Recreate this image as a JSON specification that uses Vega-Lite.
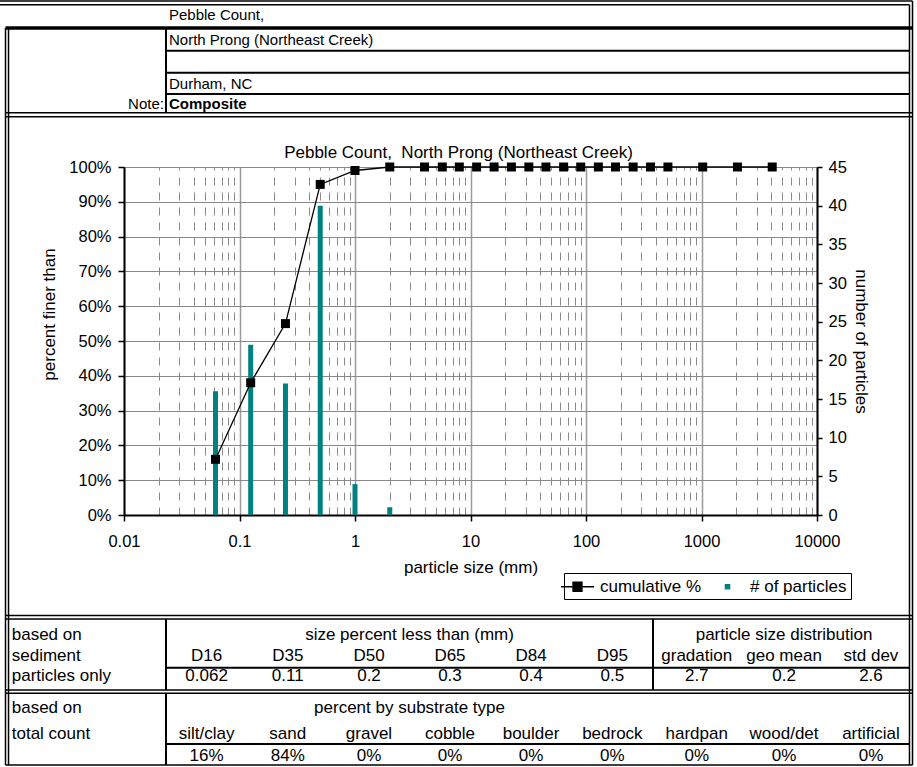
{
  "$schema": "https://vega.github.io/schema/vega-lite/v6.json",
  "width": 693,
  "height": 348,
  "autosize": {"type": "none"},
  "padding": {"left": 124, "top": 167, "right": 100, "bottom": 252},
  "background": "white",
  "config": {
    "font": "Liberation Sans",
    "view": {"stroke": "black", "strokeWidth": 1},
    "axis": {"labelColor": "black", "titleColor": "black", "labelFontSize": 16.5, "titleFontSize": 17, "titleFontWeight": "normal", "domainColor": "black", "tickColor": "black", "domainWidth": 2, "tickWidth": 1.5, "tickSize": 6, "gridColor": "#8a8a8a", "gridWidth": 1}
  },
  "datasets": {
    "cum": [
      {"size": 0.062, "pct": 0.16}, {"size": 0.125, "pct": 0.38}, {"size": 0.25, "pct": 0.55}, {"size": 0.5, "pct": 0.95},
      {"size": 1, "pct": 0.99}, {"size": 2, "pct": 1}, {"size": 4, "pct": 1}, {"size": 5.7, "pct": 1}, {"size": 8, "pct": 1},
      {"size": 11.3, "pct": 1}, {"size": 16, "pct": 1}, {"size": 22.6, "pct": 1}, {"size": 32, "pct": 1}, {"size": 45, "pct": 1},
      {"size": 64, "pct": 1}, {"size": 90, "pct": 1}, {"size": 128, "pct": 1}, {"size": 180, "pct": 1}, {"size": 256, "pct": 1},
      {"size": 362, "pct": 1}, {"size": 512, "pct": 1}, {"size": 1024, "pct": 1}, {"size": 2048, "pct": 1}, {"size": 4096, "pct": 1}
    ],
    "bars": [
      {"size": 0.062, "count": 16}, {"size": 0.125, "count": 22}, {"size": 0.25, "count": 17},
      {"size": 0.5, "count": 40}, {"size": 1, "count": 4}, {"size": 2, "count": 1}
    ],
    "thin": [
      {"x1": 0, "x2": 99.51, "y1": 0.13, "y2": 0.13},
      {"x1": 0, "x2": 99.18, "y1": 0.61, "y2": 0.61},
      {"x1": 99.51, "x2": 99.51, "y1": 0.13, "y2": 99.74},
      {"x1": 99.18, "x2": 99.18, "y1": 0.61, "y2": 99.74},
      {"x1": 0.6, "x2": 0.6, "y1": 3.65, "y2": 99.74},
      {"x1": 0.93, "x2": 0.93, "y1": 3.65, "y2": 99.74},
      {"x1": 0.6, "x2": 99.51, "y1": 14.69, "y2": 14.69},
      {"x1": 0.6, "x2": 99.51, "y1": 15.22, "y2": 15.22},
      {"x1": 0.6, "x2": 99.51, "y1": 80.25, "y2": 80.25},
      {"x1": 0.6, "x2": 99.51, "y1": 80.7, "y2": 80.7},
      {"x1": 0.6, "x2": 99.51, "y1": 89.96, "y2": 89.96},
      {"x1": 0.6, "x2": 99.51, "y1": 90.39, "y2": 90.39},
      {"x1": 0.6, "x2": 99.51, "y1": 99.74, "y2": 99.74}
    ],
    "medium": [
      {"x1": 18.1, "x2": 99.18, "y1": 6.61, "y2": 6.61},
      {"x1": 18.1, "x2": 99.18, "y1": 9.48, "y2": 9.48},
      {"x1": 18.1, "x2": 99.18, "y1": 12.26, "y2": 12.26},
      {"x1": 18.1, "x2": 18.1, "y1": 3.65, "y2": 14.69},
      {"x1": 18.1, "x2": 18.1, "y1": 80.7, "y2": 89.96},
      {"x1": 18.1, "x2": 18.1, "y1": 90.39, "y2": 99.74},
      {"x1": 18.1, "x2": 99.18, "y1": 87.05, "y2": 87.05},
      {"x1": 71.21, "x2": 71.21, "y1": 80.7, "y2": 89.96},
      {"x1": 18.1, "x2": 99.18, "y1": 97.0, "y2": 97.0}
    ],
    "thick": [
      {"x1": 0.6, "x2": 99.51, "y1": 3.65, "y2": 3.65}
    ],
    "hleft": [
      {"x": 18.43, "y": 1.96, "text": "Pebble Count,"},
      {"x": 18.43, "y": 5.15, "text": "North Prong (Northeast Creek)"},
      {"x": 18.43, "y": 10.89, "text": "Durham, NC"}
    ],
    "hright": [{"x": 17.88, "y": 13.56, "text": "Note:"}],
    "hbold": [{"x": 18.43, "y": 13.56, "text": "Composite"}],
    "tleft": [
      {"x": 1.28, "y": 82.85, "text": "based on"},
      {"x": 1.28, "y": 85.5, "text": "sediment"},
      {"x": 1.28, "y": 88.2, "text": "particles only"},
      {"x": 1.28, "y": 92.35, "text": "based on"},
      {"x": 1.28, "y": 95.65, "text": "total count"}
    ],
    "tcenter": [
      {"x": 44.66, "y": 82.85, "text": "size percent less than (mm)"},
      {"x": 85.5, "y": 82.85, "text": "particle size distribution"},
      {"x": 22.53, "y": 85.5, "text": "D16"},
      {"x": 31.38, "y": 85.5, "text": "D35"},
      {"x": 40.24, "y": 85.5, "text": "D50"},
      {"x": 49.07, "y": 85.5, "text": "D65"},
      {"x": 57.91, "y": 85.5, "text": "D84"},
      {"x": 66.78, "y": 85.5, "text": "D95"},
      {"x": 75.98, "y": 85.5, "text": "gradation"},
      {"x": 85.5, "y": 85.5, "text": "geo mean"},
      {"x": 94.98, "y": 85.5, "text": "std dev"},
      {"x": 22.53, "y": 88.2, "text": "0.062"},
      {"x": 31.38, "y": 88.2, "text": "0.11"},
      {"x": 40.24, "y": 88.2, "text": "0.2"},
      {"x": 49.07, "y": 88.2, "text": "0.3"},
      {"x": 57.91, "y": 88.2, "text": "0.4"},
      {"x": 66.78, "y": 88.2, "text": "0.5"},
      {"x": 75.98, "y": 88.2, "text": "2.7"},
      {"x": 85.5, "y": 88.2, "text": "0.2"},
      {"x": 94.98, "y": 88.2, "text": "2.6"},
      {"x": 44.66, "y": 92.35, "text": "percent by substrate type"},
      {"x": 22.53, "y": 95.65, "text": "silt/clay"},
      {"x": 31.38, "y": 95.65, "text": "sand"},
      {"x": 40.24, "y": 95.65, "text": "gravel"},
      {"x": 49.07, "y": 95.65, "text": "cobble"},
      {"x": 57.91, "y": 95.65, "text": "boulder"},
      {"x": 66.78, "y": 95.65, "text": "bedrock"},
      {"x": 75.98, "y": 95.65, "text": "hardpan"},
      {"x": 85.5, "y": 95.65, "text": "wood/det"},
      {"x": 94.98, "y": 95.65, "text": "artificial"},
      {"x": 22.53, "y": 98.55, "text": "16%"},
      {"x": 31.38, "y": 98.55, "text": "84%"},
      {"x": 40.24, "y": 98.55, "text": "0%"},
      {"x": 49.07, "y": 98.55, "text": "0%"},
      {"x": 57.91, "y": 98.55, "text": "0%"},
      {"x": 66.78, "y": 98.55, "text": "0%"},
      {"x": 75.98, "y": 98.55, "text": "0%"},
      {"x": 85.5, "y": 98.55, "text": "0%"},
      {"x": 94.98, "y": 98.55, "text": "0%"}
    ]
  },
  "layer": [
    {
      "layer": [
        {
          "data": {"name": "bars"},
          "mark": {"type": "rule", "strokeWidth": 5, "strokeCap": "butt"},
          "encoding": {
            "x": {"field": "size", "type": "quantitative", "scale": {"type": "log", "domain": [0.01, 10000], "nice": false},
                  "axis": {"values": [0.01, 0.1, 1, 10, 100, 1000, 10000], "labelExpr": "'' + datum.value", "grid": true, "gridColor": "#9a9a9a", "gridWidth": 1.5, "title": "particle size (mm)", "labelPadding": 12, "titlePadding": 10, "labelFlush": false, "labelOverlap": false}},
            "y": {"field": "count", "type": "quantitative", "scale": {"domain": [0, 45], "nice": false},
                  "axis": {"orient": "right", "values": [0, 5, 10, 15, 20, 25, 30, 35, 40, 45], "grid": false, "title": "number of particles", "tickSize": 5, "labelPadding": 6, "titlePadding": 5}},
            "y2": {"datum": 0},
            "color": {"datum": "# of particles", "type": "nominal",
                      "scale": {"domain": ["cumulative %", "# of particles"], "range": ["black", "#008080"]},
                      "legend": {"orient": "none", "legendX": 440, "legendY": 406, "direction": "horizontal", "title": null,
                                 "strokeColor": "black", "fillColor": "white", "padding": 4, "labelFontSize": 17, "labelColor": "black",
                                 "symbolSize": 289, "labelOffset": 13, "columnPadding": 16,
                                 "encode": {"symbols": {"update": {
                                   "shape": {"signal": "datum.value === 'cumulative %' ? 'M-1.94,0H1.94M-0.53,-0.53H0.53V0.53H-0.53Z' : 'M-0.25,-0.25H0.25V0.25H-0.25Z'"},
                                   "fill": {"signal": "datum.value === 'cumulative %' ? 'black' : '#008080'"},
                                   "stroke": {"signal": "datum.value === 'cumulative %' ? 'black' : '#008080'"},
                                   "strokeWidth": {"value": 1.3}, "opacity": {"value": 1}, "fillOpacity": {"value": 1}, "strokeOpacity": {"value": 1}}}}}}
          }
        },
        {
          "data": {"name": "cum"},
          "mark": {"type": "line", "strokeWidth": 1.3},
          "encoding": {
            "x": {"field": "size", "type": "quantitative", "scale": {"type": "log", "domain": [0.01, 10000], "nice": false},
                  "axis": {"orient": "top", "values": [0.02,0.03,0.04,0.05,0.06,0.07,0.08,0.09,0.2,0.3,0.4,0.5,0.6,0.7,0.8,0.9,2,3,4,5,6,7,8,9,20,30,40,50,60,70,80,90,200,300,400,500,600,700,800,900,2000,3000,4000,5000,6000,7000,8000,9000],
                           "grid": true, "gridDash": [8, 7], "gridColor": "#8a8a8a", "labels": false, "ticks": false, "domain": false,
                           "title": "Pebble Count,\u00a0 North Prong (Northeast Creek)", "titlePadding": 6, "titleX": 334, "titleFontSize": 17}},
            "y": {"field": "pct", "type": "quantitative", "scale": {"domain": [0, 1], "nice": false},
                  "axis": {"orient": "left", "values": [0, 0.1, 0.2, 0.3, 0.4, 0.5, 0.6, 0.7, 0.8, 0.9, 1], "format": ".0%", "grid": true, "title": "percent finer than", "labelPadding": 7, "titlePadding": 10, "titleY": 147}},
            "color": {"datum": "cumulative %", "type": "nominal", "scale": {"domain": ["cumulative %", "# of particles"], "range": ["black", "#008080"]}}
          }
        },
        {
          "data": {"name": "cum"},
          "mark": {"type": "square", "size": 81, "filled": true, "opacity": 1},
          "encoding": {
            "x": {"field": "size", "type": "quantitative", "scale": {"type": "log", "domain": [0.01, 10000], "nice": false}, "axis": null},
            "y": {"field": "pct", "type": "quantitative", "scale": {"domain": [0, 1], "nice": false}, "axis": null},
            "color": {"datum": "cumulative %", "type": "nominal", "scale": {"domain": ["cumulative %", "# of particles"], "range": ["black", "#008080"]}}
          }
        }
      ],
      "resolve": {"scale": {"y": "independent"}, "axis": {"x": "independent", "y": "independent"}}
    },
    {
      "layer": [
        {
          "data": {"name": "thin"},
          "mark": {"type": "rule", "color": "black", "strokeWidth": 1.5},
          "encoding": {
            "x": {"field": "x1", "type": "quantitative", "scale": {"domain": [0, 100], "range": [-124, 793], "zero": false, "nice": false}, "axis": null},
            "x2": {"field": "x2"},
            "y": {"field": "y1", "type": "quantitative", "scale": {"domain": [0, 100], "range": [-167, 600], "zero": false, "nice": false}, "axis": null},
            "y2": {"field": "y2"}
          }
        },
        {
          "data": {"name": "medium"},
          "mark": {"type": "rule", "color": "black", "strokeWidth": 2},
          "encoding": {
            "x": {"field": "x1", "type": "quantitative", "axis": null},
            "x2": {"field": "x2"},
            "y": {"field": "y1", "type": "quantitative", "axis": null},
            "y2": {"field": "y2"}
          }
        },
        {
          "data": {"name": "thick"},
          "mark": {"type": "rule", "color": "black", "strokeWidth": 3.5},
          "encoding": {
            "x": {"field": "x1", "type": "quantitative", "axis": null},
            "x2": {"field": "x2"},
            "y": {"field": "y1", "type": "quantitative", "axis": null},
            "y2": {"field": "y2"}
          }
        },
        {
          "data": {"name": "hleft"},
          "mark": {"type": "text", "align": "left", "baseline": "middle", "fontSize": 15, "color": "black"},
          "encoding": {
            "x": {"field": "x", "type": "quantitative", "axis": null},
            "y": {"field": "y", "type": "quantitative", "axis": null},
            "text": {"field": "text"}
          }
        },
        {
          "data": {"name": "hright"},
          "mark": {"type": "text", "align": "right", "baseline": "middle", "fontSize": 15, "color": "black"},
          "encoding": {
            "x": {"field": "x", "type": "quantitative", "axis": null},
            "y": {"field": "y", "type": "quantitative", "axis": null},
            "text": {"field": "text"}
          }
        },
        {
          "data": {"name": "hbold"},
          "mark": {"type": "text", "align": "left", "baseline": "middle", "fontSize": 15, "fontWeight": "bold", "color": "black"},
          "encoding": {
            "x": {"field": "x", "type": "quantitative", "axis": null},
            "y": {"field": "y", "type": "quantitative", "axis": null},
            "text": {"field": "text"}
          }
        },
        {
          "data": {"name": "tleft"},
          "mark": {"type": "text", "align": "left", "baseline": "middle", "fontSize": 17, "color": "black"},
          "encoding": {
            "x": {"field": "x", "type": "quantitative", "axis": null},
            "y": {"field": "y", "type": "quantitative", "axis": null},
            "text": {"field": "text"}
          }
        },
        {
          "data": {"name": "tcenter"},
          "mark": {"type": "text", "align": "center", "baseline": "middle", "fontSize": 17, "color": "black"},
          "encoding": {
            "x": {"field": "x", "type": "quantitative", "axis": null},
            "y": {"field": "y", "type": "quantitative", "axis": null},
            "text": {"field": "text"}
          }
        }
      ]
    }
  ],
  "resolve": {"scale": {"x": "independent", "y": "independent"}, "axis": {"x": "independent", "y": "independent"}}
}
